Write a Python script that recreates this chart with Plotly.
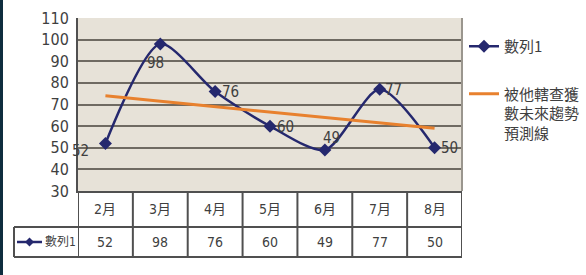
import plotly.graph_objects as go

# ---- data ----
months = ["2月", "3月", "4月", "5月", "6月", "7月", "8月"]
series_values = [52, 98, 76, 60, 49, 77, 50]
series_name = "數列1"
trend_months = ["2月", "8月"]
trend_values = [74, 59]
trend_name = "被他轄查獲<br>數未來趨勢<br>預測線"
y_ticks = [30, 40, 50, 60, 70, 80, 90, 100, 110]

# ---- layout helpers ----
W, H = 586, 275
def px(p):
    return p / W
def py(p):
    return 1 - p / H

PLOT_L, PLOT_R, PLOT_T, PLOT_B = 78, 462, 18, 191
ROW1_B, ROW2_B, KEY_L = 227, 257, 14

NAVY = "#25286e"
ORANGE = "#e8812e"
GRID = "#6f6a62"
BORDER = "#505050"
TXT = "#3f3f3f"
NARROW = "Liberation Sans Narrow, DejaVu Sans Condensed, Noto Sans CJK TC"
CJK = "Noto Sans CJK TC, Noto Sans"

label_offsets = [(-25, -8), (-5, -19), (15, 0), (15, -1), (7, 12), (14, -1), (15, 0)]

fig = go.Figure()
fig.add_trace(go.Scatter(
    x=months, y=series_values, name=series_name, mode="lines+markers",
    line=dict(color=NAVY, width=2.5, shape="spline", smoothing=0.75),
    marker=dict(symbol="diamond", size=10, color=NAVY),
    legendgroup="a",
))
fig.add_trace(go.Scatter(
    x=trend_months, y=trend_values, name=trend_name, mode="lines",
    line=dict(color=ORANGE, width=3),
    legendgroup="b",
))

annotations = []
for m, v, (dx, dy) in zip(months, series_values, label_offsets):
    annotations.append(dict(x=m, y=v, xref="x", yref="y", text=str(v),
                            showarrow=False, xshift=dx, yshift=dy,
                            xanchor="center", yanchor="middle",
                            font=dict(family=NARROW, size=15, color=TXT)))

shapes = []
# left dark strip
shapes.append(dict(type="rect", xref="paper", yref="paper", x0=0, x1=px(3), y0=0, y1=1,
                   fillcolor="#0e2d3e", line=dict(width=0), layer="below"))
# right border of plot
shapes.append(dict(type="line", xref="paper", yref="paper", x0=px(PLOT_R), x1=px(PLOT_R),
                   y0=py(PLOT_B), y1=py(PLOT_T), line=dict(color="#9a968e", width=2)))
# table: column separators
for i in range(len(months) + 1):
    shapes.append(dict(type="line", xref="x", yref="paper", x0=i - 0.5, x1=i - 0.5,
                       y0=py(ROW2_B), y1=py(PLOT_B), line=dict(color=BORDER, width=2)))
# table: horizontal lines
for yy in (ROW1_B, ROW2_B):
    shapes.append(dict(type="line", xref="paper", yref="paper", x0=px(KEY_L), x1=px(PLOT_R),
                       y0=py(yy), y1=py(yy), line=dict(color=BORDER, width=2)))
shapes.append(dict(type="line", xref="paper", yref="paper", x0=px(KEY_L), x1=px(KEY_L),
                   y0=py(ROW2_B), y1=py(ROW1_B), line=dict(color=BORDER, width=2)))
# key in table
key_y = (ROW1_B + ROW2_B) / 2
shapes.append(dict(type="line", xref="paper", yref="paper", x0=px(17), x1=px(42),
                   y0=py(key_y), y1=py(key_y), line=dict(color=NAVY, width=2.5)))
cx, cy = 29.5, key_y
shapes.append(dict(type="path", xref="paper", yref="paper",
                   path=f"M {px(cx-4.5)} {py(cy)} L {px(cx)} {py(cy-4.5)} L {px(cx+4.5)} {py(cy)} L {px(cx)} {py(cy+4.5)} Z",
                   fillcolor=NAVY, line=dict(width=0)))
annotations.append(dict(x=px(60), y=py(key_y), xref="paper", yref="paper", text=series_name,
                        showarrow=False, xanchor="center", yanchor="middle",
                        font=dict(family=NARROW, size=12, color=TXT)))
# table texts
hdr_y = (PLOT_B + ROW1_B) / 2
for m, v in zip(months, series_values):
    annotations.append(dict(x=m, y=py(hdr_y), xref="x", yref="paper", text=m, showarrow=False,
                            xanchor="center", yanchor="middle",
                            font=dict(family=NARROW, size=14, color=TXT)))
    annotations.append(dict(x=m, y=py(key_y), xref="x", yref="paper", text=str(v), showarrow=False,
                            xanchor="center", yanchor="middle",
                            font=dict(family=NARROW, size=14, color=TXT)))

fig.update_layout(
    width=W, height=H, margin=dict(l=0, r=0, t=0, b=0, pad=0, autoexpand=False),
    paper_bgcolor="white", plot_bgcolor="#e7e2d8",
    xaxis=dict(domain=[px(PLOT_L), px(PLOT_R)], range=[-0.5, 6.5], type="category",
               showticklabels=False, showgrid=False, zeroline=False, automargin=False,
               showline=True, linecolor=BORDER, linewidth=2, ticks=""),
    yaxis=dict(domain=[py(PLOT_B), py(PLOT_T)], range=[30, 110], tickvals=y_ticks,
               showgrid=True, gridcolor=GRID, gridwidth=2, zeroline=False, automargin=False,
               showline=True, linecolor=BORDER, linewidth=2, ticks="",
               ticklabelstandoff=4,
               tickfont=dict(family=NARROW, size=16, color=TXT)),
    showlegend=True,
    legend=dict(x=px(464), y=py(30), xanchor="left", yanchor="top",
                bgcolor="rgba(0,0,0,0)", traceorder="grouped", tracegroupgap=25,
                valign="top", font=dict(family=CJK, size=15, color=TXT), itemwidth=30),
    shapes=shapes, annotations=annotations,
)

fig.write_html("out.html", config={"displayModeBar": False},
               post_script="document.body.style.margin='0';")
